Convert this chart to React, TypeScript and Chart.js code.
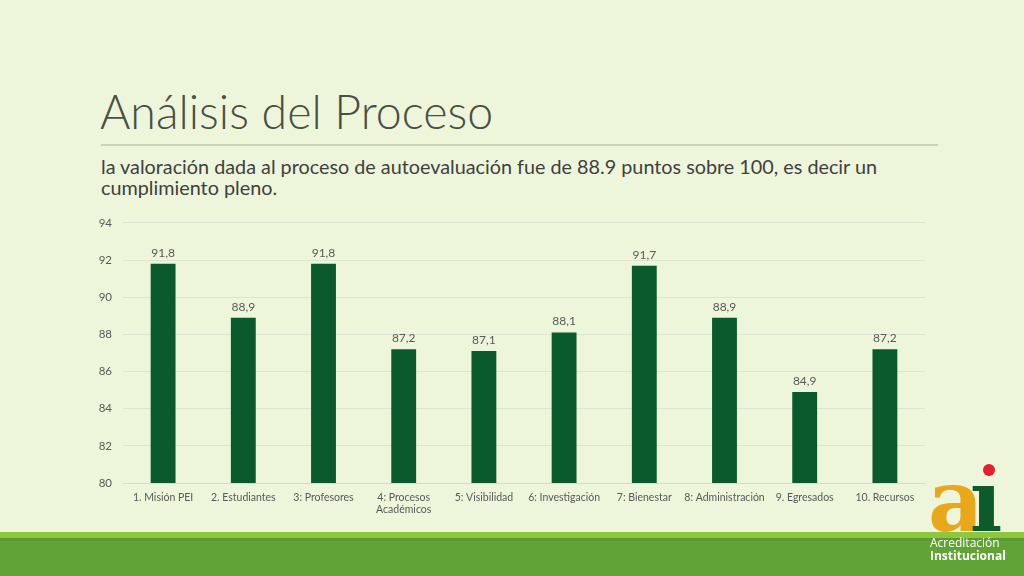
import React, { useEffect, useRef } from "react";
import { Chart, registerables } from "chart.js";

Chart.register(...registerables);

const categories: (string | string[])[] = [
  "1. Misión PEI",
  "2. Estudiantes",
  "3: Profesores",
  ["4: Procesos", "Académicos"],
  "5: Visibilidad",
  "6: Investigación",
  "7: Bienestar",
  "8: Administración",
  "9. Egresados",
  "10. Recursos",
];
const values: number[] = [91.8, 88.9, 91.8, 87.2, 87.1, 88.1, 91.7, 88.9, 84.9, 87.2];
const yMin = 80;
const yMax = 94;
const yStep = 2;

const FONT = "Lato, 'Open Sans', sans-serif";

const dataLabelPlugin = {
  id: "dataLabels",
  afterDatasetsDraw(chart: any) {
    const ctx = chart.ctx;
    const meta = chart.getDatasetMeta(0);
    ctx.save();
    ctx.font = `12px ${FONT}`;
    ctx.fillStyle = "#595959";
    ctx.textAlign = "center";
    ctx.textBaseline = "bottom";
    meta.data.forEach((bar: any, i: number) => {
      const v = chart.data.datasets[0].data[i] as number;
      ctx.fillText(v.toFixed(1).replace(".", ","), bar.x, bar.y - 5);
    });
    ctx.restore();
  },
};

function BarChart() {
  const ref = useRef<HTMLCanvasElement>(null);
  useEffect(() => {
    if (!ref.current) return;
    const chart = new Chart(ref.current, {
      type: "bar",
      data: {
        labels: categories,
        datasets: [
          {
            data: values,
            backgroundColor: "#0a5a2e",
            barPercentage: 0.31,
            categoryPercentage: 1,
          },
        ],
      },
      options: {
        animation: false,
        responsive: false,
        maintainAspectRatio: false,
        layout: { padding: { top: 16, right: 15, left: 0, bottom: 0 } },
        plugins: { legend: { display: false }, tooltip: { enabled: false } },
        scales: {
          x: {
            grid: { display: false, drawTicks: false },
            border: { display: true, color: "#d4dcc8", width: 1 },
            ticks: {
              color: "#595959",
              font: { family: FONT, size: 10.5 },
              padding: 8,
              maxRotation: 0,
              autoSkip: false,
            },
            afterFit: (s: any) => {
              s.height = 42;
            },
          },
          y: {
            min: yMin,
            max: yMax,
            grid: { color: "#dce5cf", drawTicks: false },
            border: { display: false },
            ticks: {
              stepSize: yStep,
              color: "#595959",
              font: { family: FONT, size: 11.5 },
              padding: 11,
            },
            afterFit: (s: any) => {
              s.width = 43;
            },
          },
        },
      },
      plugins: [dataLabelPlugin],
    });
    return () => chart.destroy();
  }, []);
  return (
    <canvas
      ref={ref}
      width={860}
      height={320}
      style={{ position: "absolute", left: 80, top: 205, width: 860, height: 320 }}
    />
  );
}

export default function App() {
  return (
    <div
      style={{
        position: "fixed",
        left: 0,
        top: 0,
        width: 1024,
        height: 576,
        background: "#edf6db",
        overflow: "hidden",
        fontFamily: FONT,
      }}
    >
      <div
        style={{
          position: "absolute",
          left: 100,
          top: 81,
          fontSize: 46.5,
          fontWeight: 300,
          color: "#4a4f44",
          whiteSpace: "nowrap",
          lineHeight: "60px",
        }}
      >
        Análisis del Proceso
      </div>
      <div
        style={{
          position: "absolute",
          left: 101,
          top: 144,
          width: 837,
          height: 2,
          background: "#c9d3bb",
        }}
      />
      <div
        style={{
          position: "absolute",
          left: 101,
          top: 156,
          width: 820,
          fontSize: 19.8,
          color: "#404040",
          lineHeight: "21px",
        }}
      >
        la valoración dada al proceso de autoevaluación fue de 88.9 puntos sobre 100, es decir un
        <br />
        cumplimiento pleno.
      </div>
      <BarChart />
      <div style={{ position: "absolute", left: 0, top: 532, width: 1024, height: 6, background: "#8fc640" }} />
      <div style={{ position: "absolute", left: 0, top: 538, width: 1024, height: 38, background: "#62a337" }} />
      <div style={{ position: "absolute", left: 0, top: 538, width: 1024, height: 3, background: "#5a9a30" }} />
      {/* logo */}
      <div
        style={{
          position: "absolute",
          left: 928,
          top: 458,
          fontFamily: "'DejaVu Serif', serif",
          fontSize: 86,
          lineHeight: "86px",
          fontWeight: 700,
          whiteSpace: "nowrap",
        }}
      >
        <span style={{ color: "#e9a81c" }}>a</span>
        <span style={{ color: "#0d5b2b", marginLeft: -14 }}>ı</span>
      </div>
      <div
        style={{
          position: "absolute",
          left: 983,
          top: 464,
          width: 12,
          height: 12,
          borderRadius: 6,
          background: "#e5202a",
        }}
      />
      <div
        style={{
          position: "absolute",
          left: 930,
          top: 536,
          color: "#ffffff",
          fontFamily: "'Open Sans', sans-serif",
          fontSize: 12,
          lineHeight: "13px",
          whiteSpace: "nowrap",
        }}
      >
        <div>Acreditación</div>
        <div style={{ fontWeight: 700 }}>Institucional</div>
      </div>
    </div>
  );
}
